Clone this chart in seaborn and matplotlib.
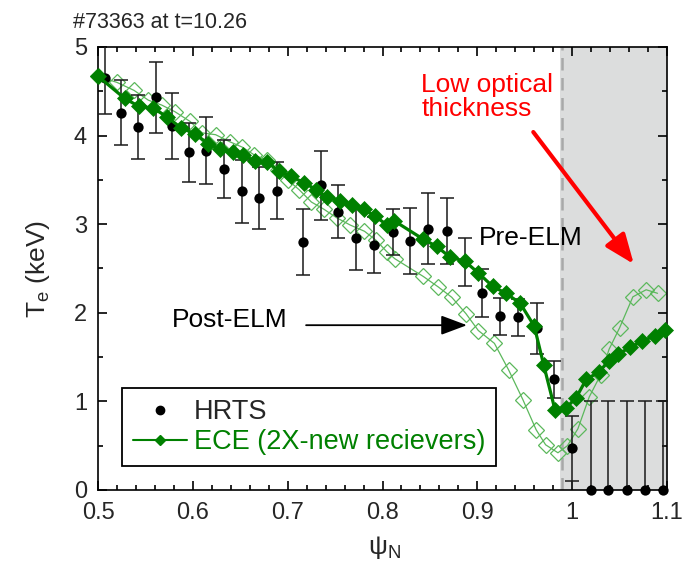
import numpy as np
import pandas as pd
import matplotlib
matplotlib.use('Agg')
import matplotlib.pyplot as plt
import seaborn as sns
from matplotlib.lines import Line2D
from matplotlib.ticker import MultipleLocator

sns.set_style('ticks')
plt.rcParams['font.family'] = ['Liberation Sans', 'DejaVu Sans']
plt.rcParams['mathtext.fontset'] = 'custom'
plt.rcParams['mathtext.rm'] = 'Liberation Sans'
plt.rcParams['mathtext.it'] = 'Liberation Sans:italic'

# ---------------- data ----------------
hrts_psi = [0.507, 0.524, 0.5425, 0.561, 0.578, 0.596, 0.614, 0.633, 0.652, 0.670,
            0.6885, 0.716, 0.735, 0.7535, 0.772, 0.791, 0.811, 0.829, 0.848, 0.868,
            0.887, 0.905, 0.924, 0.943, 0.963, 0.981, 1.000, 1.020, 1.038, 1.058,
            1.077, 1.096]
hrts_te = [4.65, 4.26, 4.10, 4.43, 4.11, 3.81, 3.83, 3.62, 3.37, 3.30,
           3.38, 2.80, 3.44, 3.14, 2.84, 2.765, 2.915, 2.81, 2.95, 2.92,
           2.57, 2.22, 1.96, 1.95, 1.825, 1.25, 0.47, 0, 0, 0,
           0, 0]
hrts_err = [0.41, 0.37, 0.36, 0.40, 0.37, 0.33, 0.38, 0.33, 0.36, 0.35,
            0.32, 0.37, 0.39, 0.30, 0.36, 0.32, 0.26, 0.37, 0.40, 0.37,
            0.27, 0.27, 0.21, 0.21, 0.29, 0.21, 0.37, 1.0, 1.0, 1.0,
            1.0, 1.0]

ece_pre_psi = [0.500, 0.528, 0.543, 0.558, 0.573, 0.587, 0.602, 0.616, 0.629, 0.642,
               0.653, 0.666, 0.678, 0.691, 0.703, 0.717, 0.730, 0.741, 0.755, 0.768,
               0.780, 0.792, 0.805, 0.812, 0.843, 0.857, 0.871, 0.887, 0.901, 0.916,
               0.930, 0.945, 0.960, 0.970, 0.982, 0.994, 1.004, 1.015, 1.028, 1.039,
               1.048, 1.061, 1.074, 1.087, 1.098]
ece_pre_te = [4.67, 4.42, 4.33, 4.31, 4.21, 4.09, 4.02, 3.91, 3.845, 3.81,
              3.78, 3.71, 3.70, 3.60, 3.54, 3.47, 3.39, 3.31, 3.26, 3.22,
              3.17, 3.09, 2.99, 3.04, 2.83, 2.75, 2.63, 2.58, 2.45, 2.30,
              2.22, 2.11, 1.85, 1.41, 0.90, 0.93, 1.04, 1.25, 1.33, 1.46,
              1.53, 1.61, 1.68, 1.74, 1.81]

ece_post_psi = [0.500, 0.520, 0.538, 0.553, 0.567, 0.581, 0.597, 0.610, 0.624, 0.639,
                0.652, 0.665, 0.678, 0.690, 0.700, 0.712, 0.725, 0.738, 0.752, 0.766,
                0.781, 0.793, 0.8045, 0.813, 0.843, 0.859, 0.873, 0.888, 0.901, 0.918,
                0.933, 0.948, 0.962, 0.972, 0.985, 0.995, 1.006, 1.018, 1.030, 1.039,
                1.050, 1.064, 1.078, 1.090]
ece_post_te = [4.67, 4.60, 4.51, 4.40, 4.345, 4.27, 4.16, 4.03, 4.01, 3.93,
               3.87, 3.78, 3.72, 3.61, 3.50, 3.39, 3.25, 3.17, 3.07, 2.99,
               2.92, 2.82, 2.69, 2.61, 2.41, 2.29, 2.175, 1.99, 1.80, 1.655,
               1.355, 1.02, 0.68, 0.51, 0.42, 0.50, 0.69, 1.05, 1.30, 1.59,
               1.83, 2.18, 2.26, 2.22]

x_ticks = [0.5, 0.6, 0.7, 0.8, 0.9, 1.0, 1.1]
x_ticklabels = ['0.5', '0.6', '0.7', '0.8', '0.9', '1', '1.1']
y_ticks = [0, 1, 2, 3, 4, 5]
y_ticklabels = ['0', '1', '2', '3', '4', '5']

shade_start = 0.987
dash_pos = 0.989

GREEN = '#008000'
LGREEN = '#5cb85c'

# ---------------- figure ----------------
fig = plt.figure(figsize=(6.86, 5.66), dpi=100)
ax = fig.add_axes([0.1429, 0.1343, 0.8294, 0.7827])

ax.axvspan(shade_start, 1.1, color='#dcdddd', lw=0, zorder=0)
ax.axvline(dash_pos, color='#a8a8a8', ls=(0, (5, 3)), lw=1.8, zorder=1)

# post-ELM ECE (open diamonds)
sns.lineplot(x=ece_post_psi, y=ece_post_te, ax=ax, sort=False, estimator=None,
             color=LGREEN, lw=0.9, marker='D', markersize=8,
             markerfacecolor='none', markeredgecolor=LGREEN, markeredgewidth=0.9,
             zorder=2, clip_on=False)

# HRTS with error bars
ax.errorbar(hrts_psi, hrts_te, yerr=hrts_err, fmt='none', ecolor='#1a1a1a',
            elinewidth=1.1, capsize=5, capthick=1.1, zorder=3)
sns.scatterplot(x=hrts_psi, y=hrts_te, ax=ax, color='black', s=55, linewidth=0,
                zorder=4, clip_on=False)

# pre-ELM ECE (filled diamonds)
sns.lineplot(x=ece_pre_psi, y=ece_pre_te, ax=ax, sort=False, estimator=None,
             color=GREEN, lw=2.3, marker='D', markersize=8.5,
             markerfacecolor=GREEN, markeredgecolor=GREEN, markeredgewidth=0.5,
             zorder=5, clip_on=False)

ax.set_xlim(0.5, 1.1)
ax.set_ylim(0, 5)
ax.set_xticks(x_ticks)
ax.set_xticklabels(x_ticklabels)
ax.set_yticks(y_ticks)
ax.set_yticklabels(y_ticklabels)
ax.xaxis.set_minor_locator(MultipleLocator(0.02))
ax.yaxis.set_minor_locator(MultipleLocator(0.5))
ax.tick_params(which='both', direction='in', top=True, right=True, width=1.2,
               color='black')
ax.tick_params(which='major', length=6.5)
ax.tick_params(which='minor', length=3.5)
ax.tick_params(axis='x', which='major', labelsize=17, pad=9)
ax.tick_params(axis='y', which='major', labelsize=17, pad=8)
for s in ax.spines.values():
    s.set_color('black')
    s.set_linewidth(1.2)
    s.set_visible(True)

ax.set_ylabel('T$_{\\rm e}$ (keV)', fontsize=19)
ax.yaxis.set_label_coords(-0.081, 0.5)
ax.set_xlabel('ψ$_{\\rm N}$', fontsize=19)
ax.xaxis.set_label_coords(0.504, -0.10)

# annotations
ax.text(0.578, 1.92, 'Post-ELM', fontsize=19, ha='left', va='center', color='black')
ax.annotate('', xy=(0.889, 1.86), xytext=(0.7194, 1.86),
            arrowprops=dict(arrowstyle='-|>,head_length=0.4,head_width=0.15',
                            color='black', lw=1.3, mutation_scale=40,
                            shrinkA=0, shrinkB=0))
ax.text(0.902, 2.84, 'Pre-ELM', fontsize=19, ha='left', va='center', color='black')
ax.text(0.841, 4.44, 'Low optical\nthickness', fontsize=19, ha='left', va='center',
        color='red', linespacing=1.0)
ax.annotate('', xy=(1.065, 2.55), xytext=(0.959, 4.04),
            arrowprops=dict(arrowstyle='-|>,head_length=0.45,head_width=0.18',
                            color='red', lw=3, mutation_scale=40,
                            shrinkA=0, shrinkB=0), zorder=6)

fig.text(0.1064, 0.961, '#73363 at t=10.26', fontsize=15.5, ha='left', va='center')

handles = [Line2D([], [], marker='o', color='black', ls='none', ms=6),
           Line2D([], [], marker='D', color=GREEN, lw=1.5, ms=5)]
leg = ax.legend(handles, ['HRTS', 'ECE (2X-new recievers)'], loc='lower left',
                bbox_to_anchor=(0.042, 0.054), borderaxespad=0, fontsize=19.5,
                frameon=True, fancybox=False, edgecolor='black', framealpha=1,
                handlelength=2.0, handletextpad=0.25, borderpad=0.4,
                labelspacing=0.15)
leg.get_frame().set_linewidth(1.3)
leg.get_texts()[1].set_color(GREEN)
leg.set_zorder(10)

fig.savefig('out.png', dpi=100)
